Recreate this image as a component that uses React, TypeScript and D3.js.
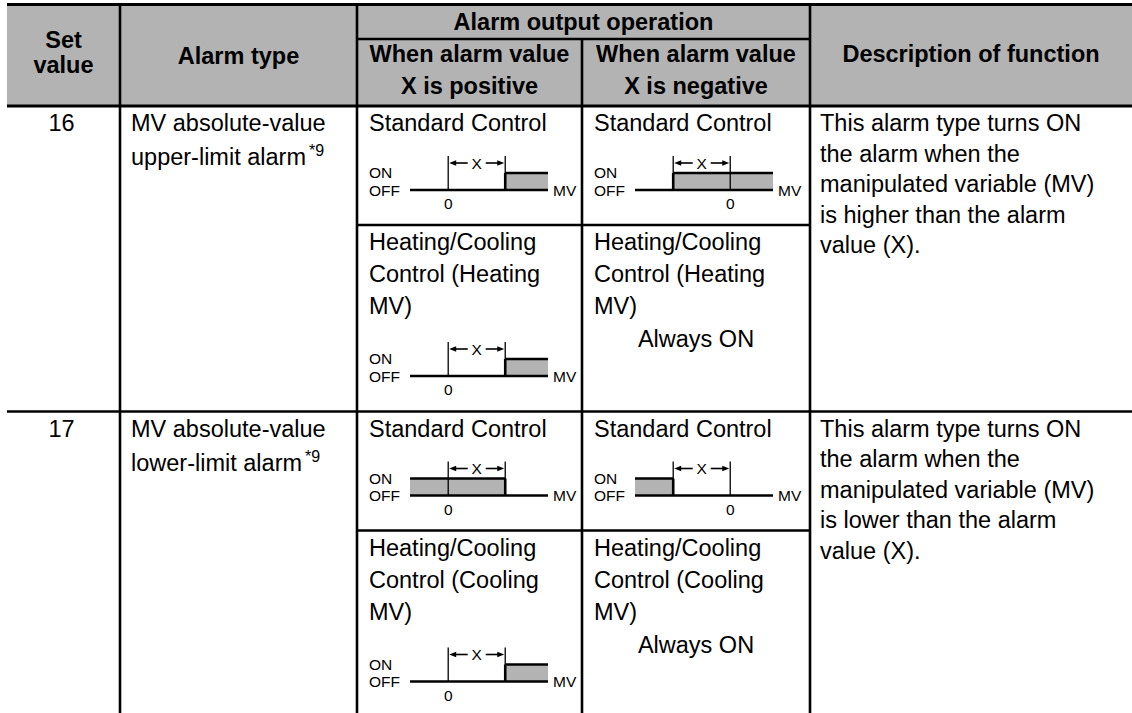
import React from "react";
import * as d3 from "d3";

// table content
const setValues = ["16", "17"];
const alarmTypes = [
  ["MV absolute-value", "upper-limit alarm"],
  ["MV absolute-value", "lower-limit alarm"],
];
const descriptions = [
  ["This alarm type turns ON", "the alarm when the", "manipulated variable (MV)", "is higher than the alarm", "value (X)."],
  ["This alarm type turns ON", "the alarm when the", "manipulated variable (MV)", "is lower than the alarm", "value (X)."],
];
const heatingMV = ["Heating", "Cooling"];
// which side of X the output is ON, per row: standard control, heating/cooling control
const standardSides = ["upper", "lower"];
const heatingSides = ["upper", "upper"];
// sign of alarm value X in the two output columns
const xSigns = [1, -1];
const headerSub = [["When alarm value", "X is positive"], ["When alarm value", "X is negative"]];

const W = 1132;
const H = 713;
const FONT = "'Liberation Sans', Arial, Helvetica, sans-serif";
const GREY = "#b3b3b3";

const colX = [7, 120, 357, 582, 810, W];
const headTop = 4.5;
const headSub = 39;
const rowTops = [106, 411.5];
const subOffset = 119;

const Arrow = ({x1, x2, y}: {x1: number; x2: number; y: number}) => {
  // tip at x1
  const dir = x2 > x1 ? 1 : -1;
  return (
    <g>
      <line x1={x1 + dir * 4} x2={x2} y1={y} y2={y} stroke="#000" strokeWidth={1.6} />
      <path d={`M${x1},${y} L${x1 + dir * 7},${y - 2.8} L${x1 + dir * 7},${y + 2.8} Z`} fill="#000" />
    </g>
  );
};

const Diagram = ({x0, axisY, sign, side}: {x0: number; axisY: number; sign: number; side: string}) => {
  const domain = sign > 0 ? [-0.67, 1.75] : [-1.67, 0.75];
  const x = d3.scaleLinear().domain(domain).range([x0 + 53, x0 + 191]);
  const on = side === "upper" ? [sign, domain[1]] : [domain[0], sign];
  const onTop = axisY - 17;
  const a = Math.min(x(0), x(sign));
  const b = Math.max(x(0), x(sign));
  const mid = (a + b) / 2;
  const ay = axisY - 27;
  const small = 15.5;
  return (
    <g fontFamily={FONT} fontSize={small}>
      <rect x={x(on[0])} y={onTop} width={x(on[1]) - x(on[0])} height={axisY - onTop} fill={GREY} />
      <line x1={x(0)} x2={x(0)} y1={axisY - 34} y2={axisY} stroke="#000" strokeWidth={1.3} />
      <line x1={x(sign)} x2={x(sign)} y1={axisY - 34} y2={axisY} stroke="#000" strokeWidth={1.3} />
      <line x1={x(sign)} x2={x(sign)} y1={onTop} y2={axisY} stroke="#000" strokeWidth={2.6} />
      <line x1={x(on[0])} x2={x(on[1])} y1={onTop} y2={onTop} stroke="#000" strokeWidth={2.6} />
      <line x1={x(domain[0])} x2={x(domain[1])} y1={axisY} y2={axisY} stroke="#000" strokeWidth={2.6} />
      <Arrow x1={a + 1} x2={mid - 9} y={ay} />
      <Arrow x1={b - 1} x2={mid + 9} y={ay} />
      <text x={mid} y={ay + 5.5} textAnchor="middle">X</text>
      <text x={x0 + 12} y={axisY - 12}>ON</text>
      <text x={x0 + 12} y={axisY + 5.5}>OFF</text>
      <text x={x(domain[1]) + 5} y={axisY + 5.5}>MV</text>
      <text x={x(0)} y={axisY + 19} textAnchor="middle">0</text>
    </g>
  );
};

const App = () => {
  const fs = 23.5;
  const lh = 32;
  const lineW = 2.6;
  return (
    <svg width={W} height={H} style={{position: "absolute", left: 0, top: 0}} fontFamily={FONT}>
      <rect width={W} height={H} fill="#fff" />
      {/* header */}
      <rect x={colX[0]} y={headTop} width={W - colX[0]} height={rowTops[0] - headTop} fill={GREY} />
      <g fontWeight="bold" fontSize={fs} textAnchor="middle">
        <text x={(colX[0] + colX[1]) / 2} y={48}>Set</text>
        <text x={(colX[0] + colX[1]) / 2} y={73}>value</text>
        <text x={(colX[1] + colX[2]) / 2} y={64}>Alarm type</text>
        <text x={(colX[2] + colX[4]) / 2} y={30}>Alarm output operation</text>
        {headerSub.map((lines, i) => (
          <g key={i}>
            <text x={(colX[2 + i] + colX[3 + i]) / 2} y={62}>{lines[0]}</text>
            <text x={(colX[2 + i] + colX[3 + i]) / 2} y={94}>{lines[1]}</text>
          </g>
        ))}
        <text x={(colX[4] + colX[5]) / 2} y={62}>Description of function</text>
      </g>
      <line x1={colX[0]} x2={W} y1={headTop} y2={headTop} stroke="#000" strokeWidth={3} />
      <line x1={colX[2]} x2={colX[4]} y1={headSub} y2={headSub} stroke="#000" strokeWidth={lineW} />
      <line x1={colX[0]} x2={W} y1={rowTops[0]} y2={rowTops[0]} stroke="#000" strokeWidth={3} />

      {/* body rows */}
      {setValues.map((sv, r) => {
        const top = rowTops[r];
        const sub = top + subOffset;
        const base = top + 25;
        return (
          <g key={sv} fontSize={fs}>
            {r > 0 && <line x1={colX[0]} x2={W} y1={top} y2={top} stroke="#000" strokeWidth={lineW} />}
            <line x1={colX[2]} x2={colX[4]} y1={sub} y2={sub} stroke="#000" strokeWidth={lineW} />
            <text x={(colX[0] + colX[1]) / 2 - 2} y={base} textAnchor="middle">{sv}</text>
            <text x={colX[1] + 11} y={base}>{alarmTypes[r][0]}</text>
            <text x={colX[1] + 11} y={base + 34}>
              {alarmTypes[r][1]}
              <tspan fontSize={16} dx={3} dy={-9}>*9</tspan>
            </text>
            {descriptions[r].map((d, i) => (
              <text key={i} x={colX[4] + 10} y={base + i * 30.5}>{d}</text>
            ))}
            {xSigns.map((s, c) => {
              const cx = colX[2 + c];
              return (
                <g key={c}>
                  <text x={cx + 12} y={base}>Standard Control</text>
                  <Diagram x0={cx} axisY={top + 84} sign={s} side={standardSides[r]} />
                  <text x={cx + 12} y={sub + 25}>Heating/Cooling</text>
                  <text x={cx + 12} y={sub + 25 + lh}>{`Control (${heatingMV[r]}`}</text>
                  <text x={cx + 12} y={sub + 25 + 2 * lh}>MV)</text>
                  {s > 0 ? (
                    <Diagram x0={cx} axisY={sub + 151} sign={s} side={heatingSides[r]} />
                  ) : (
                    <text x={(colX[3] + colX[4]) / 2} y={sub + 122} textAnchor="middle">Always ON</text>
                  )}
                </g>
              );
            })}
          </g>
        );
      })}

      {/* vertical rules */}
      {[1, 2, 4].map(i => (
        <line key={i} x1={colX[i]} x2={colX[i]} y1={headTop} y2={H} stroke="#000" strokeWidth={lineW} />
      ))}
      <line x1={colX[3]} x2={colX[3]} y1={headSub} y2={H} stroke="#000" strokeWidth={lineW} />
    </svg>
  );
};

export default App;
